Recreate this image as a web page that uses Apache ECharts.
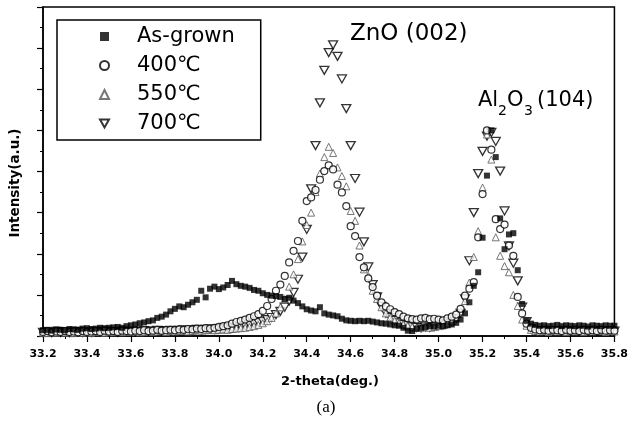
<!DOCTYPE html>
<html>
<head>
    <meta charset="UTF-8">
    <title>XRD</title>
    <script src="https://cdn.jsdelivr.net/npm/echarts@6/dist/echarts.min.js"></script>
</head>
<body style="margin: 0; background: #fff;">
<div id="container" style="width: 631px; height: 427px;"></div>
<script type="text/javascript">
    // 2-theta sampling positions (deg.)
    var theta = [
        33.20, 33.22, 33.24, 33.26, 33.28, 33.30, 33.32, 33.34, 33.36, 33.38,
        33.40, 33.42, 33.44, 33.46, 33.48, 33.50, 33.52, 33.54, 33.56, 33.58,
        33.60, 33.62, 33.64, 33.66, 33.68, 33.70, 33.72, 33.74, 33.76, 33.78,
        33.80, 33.82, 33.84, 33.86, 33.88, 33.90, 33.92, 33.94, 33.96, 33.98,
        34.00, 34.02, 34.04, 34.06, 34.08, 34.10, 34.12, 34.14, 34.16, 34.18,
        34.20, 34.22, 34.24, 34.26, 34.28, 34.30, 34.32, 34.34, 34.36, 34.38,
        34.40, 34.42, 34.44, 34.46, 34.48, 34.50, 34.52, 34.54, 34.56, 34.58,
        34.60, 34.62, 34.64, 34.66, 34.68, 34.70, 34.72, 34.74, 34.76, 34.78,
        34.80, 34.82, 34.84, 34.86, 34.88, 34.90, 34.92, 34.94, 34.96, 34.98,
        35.00, 35.02, 35.04, 35.06, 35.08, 35.10, 35.12, 35.14, 35.16, 35.18,
        35.20, 35.22, 35.24, 35.26, 35.28, 35.30, 35.32, 35.34, 35.36, 35.38,
        35.40, 35.42, 35.44, 35.46, 35.48, 35.50, 35.52, 35.54, 35.56, 35.58,
        35.60, 35.62, 35.64, 35.66, 35.68, 35.70, 35.72, 35.74, 35.76, 35.78,
        35.80
    ];

    var asGrown = [
        0.14, 0.15, 0.13, 0.16, 0.15, 0.14, 0.17, 0.16, 0.15, 0.18,
        0.19, 0.17, 0.18, 0.20, 0.19, 0.20, 0.21, 0.22, 0.20, 0.24,
        0.26, 0.28, 0.31, 0.33, 0.36, 0.38, 0.44, 0.47, 0.52, 0.60,
        0.66, 0.72, 0.70, 0.76, 0.82, 0.88, 1.10, 0.94, 1.15, 1.20,
        1.14, 1.18, 1.24, 1.34, 1.26, 1.22, 1.20, 1.17, 1.12, 1.10,
        1.04, 1.00, 0.98, 0.97, 0.95, 0.90, 0.93, 0.86, 0.80, 0.72,
        0.65, 0.62, 0.60, 0.70, 0.55, 0.52, 0.50, 0.48, 0.42, 0.38,
        0.37, 0.36, 0.37, 0.36, 0.37, 0.35, 0.33, 0.31, 0.30, 0.28,
        0.26, 0.25, 0.20, 0.13, 0.12, 0.18, 0.20, 0.22, 0.24, 0.23,
        0.25, 0.24, 0.26, 0.28, 0.32, 0.40, 0.55, 0.82, 1.22, 1.55,
        2.39, 3.90, 5.00, 4.35, 2.86, 2.11, 2.47, 2.50, 1.60, 0.78,
        0.37, 0.30, 0.27, 0.25, 0.26, 0.24, 0.25, 0.27, 0.24, 0.26,
        0.25, 0.24, 0.26, 0.25, 0.23, 0.26, 0.25, 0.24, 0.26, 0.25,
        0.25
    ];

    var t400 = [
        0.10, 0.12, 0.09, 0.11, 0.10, 0.12, 0.10, 0.11, 0.09, 0.12,
        0.10, 0.11, 0.12, 0.10, 0.13, 0.11, 0.12, 0.10, 0.13, 0.12,
        0.11, 0.13, 0.12, 0.14, 0.12, 0.13, 0.15, 0.13, 0.14, 0.15,
        0.14, 0.16, 0.15, 0.17, 0.16, 0.18, 0.17, 0.19, 0.18, 0.20,
        0.22, 0.24, 0.26, 0.30, 0.34, 0.37, 0.40, 0.44, 0.48, 0.53,
        0.61, 0.73, 0.90, 1.10, 1.25, 1.46, 1.79, 2.07, 2.31, 2.80,
        3.28, 3.37, 3.55, 3.80, 4.01, 4.15, 4.05, 3.68, 3.49, 3.16,
        2.67, 2.43, 1.92, 1.67, 1.40, 1.19, 0.98, 0.82, 0.72, 0.65,
        0.58, 0.53, 0.47, 0.43, 0.41, 0.40, 0.43, 0.44, 0.41, 0.42,
        0.40, 0.38, 0.43, 0.47, 0.52, 0.66, 0.98, 1.15, 1.31, 2.40,
        3.45, 5.00, 4.53, 2.84, 2.60, 2.71, 2.20, 1.95, 0.95, 0.55,
        0.30, 0.20, 0.16, 0.14, 0.15, 0.13, 0.15, 0.14, 0.12, 0.15,
        0.13, 0.14, 0.12, 0.15, 0.13, 0.14, 0.12, 0.15, 0.13, 0.14,
        0.13
    ];

    var t550 = [
        0.08, 0.07, 0.09, 0.08, 0.10, 0.08, 0.09, 0.07, 0.09, 0.08,
        0.09, 0.08, 0.10, 0.09, 0.08, 0.10, 0.09, 0.11, 0.09, 0.10,
        0.10, 0.11, 0.09, 0.10, 0.12, 0.10, 0.11, 0.12, 0.10, 0.12,
        0.11, 0.12, 0.13, 0.11, 0.12, 0.14, 0.13, 0.14, 0.15, 0.14,
        0.15, 0.16, 0.15, 0.17, 0.18, 0.19, 0.20, 0.22, 0.24, 0.27,
        0.31, 0.36, 0.44, 0.55, 0.70, 0.90, 1.20, 1.50, 1.87, 2.30,
        2.70, 3.00, 3.50, 3.95, 4.35, 4.60, 4.45, 4.10, 3.89, 3.64,
        3.04, 2.80, 2.20, 1.62, 1.46, 1.10, 0.90, 0.70, 0.55, 0.45,
        0.38, 0.32, 0.28, 0.25, 0.22, 0.20, 0.20, 0.22, 0.20, 0.22,
        0.24, 0.26, 0.30, 0.36, 0.45, 0.60, 0.85, 1.30, 1.92, 2.55,
        3.61, 4.90, 4.29, 2.40, 1.95, 1.70, 1.55, 1.00, 0.73, 0.40,
        0.25, 0.15, 0.12, 0.11, 0.13, 0.10, 0.12, 0.11, 0.13, 0.10,
        0.12, 0.11, 0.13, 0.10, 0.12, 0.11, 0.13, 0.12, 0.10, 0.12,
        0.11
    ];

    var t700 = [
        0.09, 0.10, 0.08, 0.11, 0.09, 0.10, 0.08, 0.10, 0.11, 0.09,
        0.10, 0.09, 0.11, 0.10, 0.12, 0.10, 0.11, 0.09, 0.12, 0.11,
        0.12, 0.10, 0.11, 0.13, 0.11, 0.12, 0.14, 0.12, 0.13, 0.14,
        0.12, 0.14, 0.15, 0.13, 0.15, 0.16, 0.14, 0.16, 0.17, 0.16,
        0.17, 0.18, 0.20, 0.19, 0.21, 0.23, 0.25, 0.27, 0.30, 0.33,
        0.36, 0.40, 0.45, 0.52, 0.60, 0.70, 0.85, 1.06, 1.38, 1.92,
        2.59, 3.58, 4.63, 5.67, 6.46, 6.89, 7.08, 6.80, 6.25, 5.53,
        4.63, 3.83, 3.01, 2.29, 1.68, 1.25, 0.95, 0.72, 0.55, 0.45,
        0.38, 0.32, 0.28, 0.25, 0.22, 0.21, 0.20, 0.22, 0.21, 0.23,
        0.25, 0.27, 0.30, 0.35, 0.42, 0.55, 0.90, 1.83, 3.00, 3.95,
        4.49, 4.86, 4.95, 4.73, 4.01, 3.04, 2.19, 1.77, 1.34, 0.70,
        0.35, 0.18, 0.13, 0.12, 0.14, 0.11, 0.13, 0.12, 0.14, 0.12,
        0.13, 0.12, 0.14, 0.11, 0.13, 0.12, 0.14, 0.13, 0.12, 0.13,
        0.12
    ];

    var seriesNames = ['As-grown', '400\u2103', '550\u2103', '700\u2103'];
    var downTri = 'path://M0,0 L10,0 L5,9 Z';

    function pairs(vals) {
        var out = [];
        for (var i = 0; i < theta.length; i++) {
            out.push([theta[i], vals[i]]);
        }
        return out;
    }

    var dom = document.getElementById('container');
    var myChart = echarts.init(dom, null, {renderer: 'canvas'});

    var mainFont = '21px "DejaVu Sans"';
    var subFont = '14px "DejaVu Sans"';

    var option = {
        backgroundColor: '#fff',
        animation: false,
        grid: {
            left: 43, right: 13, top: 7, bottom: 91,
            show: true, borderColor: '#000', borderWidth: 1.5
        },
        legend: {
            orient: 'vertical',
            left: 57, top: 20,
            padding: [6, 26, 6, 42],
            itemWidth: 9, itemHeight: 9,
            itemGap: 8,
            borderColor: '#000', borderWidth: 1.5,
            textStyle: {
                fontFamily: 'DejaVu Sans', fontSize: 21, color: '#000',
                padding: [0, 0, 0, 23]
            },
            data: [
                {name: seriesNames[0]},
                {name: seriesNames[1]},
                {name: seriesNames[2]},
                {name: seriesNames[3], icon: downTri}
            ]
        },
        xAxis: {
            type: 'value',
            min: 33.2, max: 35.8, interval: 0.2,
            axisLine: {lineStyle: {color: '#000', width: 1.5}},
            axisTick: {show: true, length: 6, lineStyle: {color: '#000', width: 1.2}},
            minorTick: {show: true, splitNumber: 2, length: 3, lineStyle: {color: '#000'}},
            splitLine: {show: false},
            axisLabel: {
                margin: 13, color: '#000', fontFamily: 'DejaVu Sans', fontWeight: 'bold', fontSize: 11,
                formatter: function (v) { return v.toFixed(1); }
            }
        },
        yAxis: {
            type: 'value',
            min: 0, max: 8, interval: 1,
            axisLine: {show: true, lineStyle: {color: '#000', width: 1.5}},
            axisTick: {show: true, length: 6, lineStyle: {color: '#000', width: 1.2}},
            minorTick: {show: true, splitNumber: 2, length: 3, lineStyle: {color: '#000'}},
            splitLine: {show: false},
            axisLabel: {show: false}
        },
        graphic: [
            {type: 'text', x: 350, y: 34, style: {text: 'ZnO (002)', font: '23px "DejaVu Sans"', fill: '#000', textVerticalAlign: 'middle'}},
            // Al2O3 (104) with subscripts
            {type: 'text', x: 478, y: 101, style: {text: 'Al', font: mainFont, fill: '#000', textVerticalAlign: 'middle'}},
            {type: 'text', x: 498, y: 111, style: {text: '2', font: subFont, fill: '#000', textVerticalAlign: 'middle'}},
            {type: 'text', x: 507, y: 101, style: {text: 'O', font: mainFont, fill: '#000', textVerticalAlign: 'middle'}},
            {type: 'text', x: 524, y: 111, style: {text: '3', font: subFont, fill: '#000', textVerticalAlign: 'middle'}},
            {type: 'text', x: 537, y: 101, style: {text: '(104)', font: mainFont, fill: '#000', textVerticalAlign: 'middle'}},
            {type: 'text', x: 330, y: 382, style: {text: '2-theta(deg.)', font: 'bold 13px "DejaVu Sans"', fill: '#000', textAlign: 'center', textVerticalAlign: 'middle'}},
            {type: 'text', x: 15, y: 183, rotation: Math.PI / 2, style: {text: 'Intensity(a.u.)', font: 'bold 13.5px "DejaVu Sans"', fill: '#000', textAlign: 'center', textVerticalAlign: 'middle'}},
            {type: 'text', x: 326, y: 408, style: {text: '(a)', font: '17px "Liberation Serif"', fill: '#000', textAlign: 'center', textVerticalAlign: 'middle'}}
        ],
        series: [
            {
                name: seriesNames[0], type: 'scatter',
                symbol: 'rect', symbolSize: 6,
                itemStyle: {color: '#000'},
                data: pairs(asGrown), z: 4
            },
            {
                name: seriesNames[1], type: 'scatter',
                symbol: 'circle', symbolSize: 7,
                itemStyle: {color: '#fff', borderColor: '#000', borderWidth: 1.2},
                data: pairs(t400), z: 3
            },
            {
                name: seriesNames[2], type: 'scatter',
                symbol: 'triangle', symbolSize: 7,
                itemStyle: {color: '#fff', borderColor: '#555', borderWidth: 1},
                data: pairs(t550), z: 2
            },
            {
                name: seriesNames[3], type: 'scatter',
                symbol: downTri, symbolSize: [9, 8],
                itemStyle: {color: '#fff', borderColor: '#000', borderWidth: 1.3},
                data: pairs(t700), z: 1
            }
        ]
    };

    myChart.setOption(option);
</script>
</body>
</html>
